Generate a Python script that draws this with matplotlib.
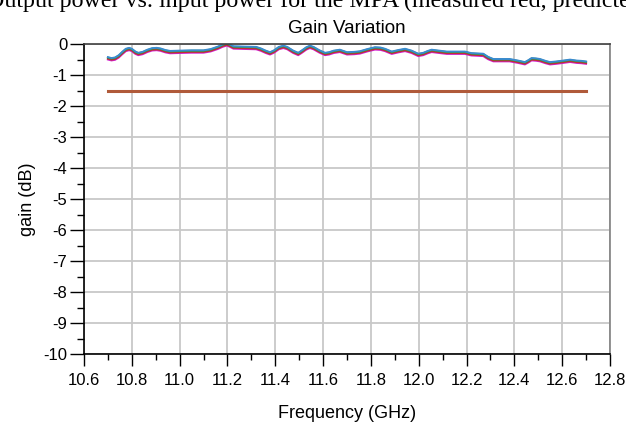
import matplotlib
matplotlib.use("Agg")
import matplotlib.pyplot as plt
import matplotlib.transforms as mtransforms
from matplotlib.ticker import MultipleLocator, FormatStrFormatter

##### data #####
freq = [10.70, 10.715, 10.73, 10.745, 10.76, 10.775, 10.789, 10.80, 10.815, 10.827,
        10.845, 10.865, 10.885, 10.904, 10.92, 10.94, 10.96, 11.00, 11.05, 11.10,
        11.13, 11.16, 11.18, 11.197, 11.21, 11.225, 11.27, 11.32, 11.34, 11.36,
        11.378, 11.395, 11.415, 11.434, 11.45, 11.475, 11.496, 11.51, 11.53, 11.545,
        11.56, 11.585, 11.608, 11.625, 11.645, 11.67, 11.70, 11.73, 11.754, 11.785,
        11.817, 11.84, 11.859, 11.887, 11.915, 11.943, 11.97, 11.998, 12.019, 12.038,
        12.054, 12.085, 12.117, 12.155, 12.193, 12.22, 12.27, 12.29, 12.312, 12.345,
        12.38, 12.415, 12.444, 12.458, 12.472, 12.49, 12.507, 12.53, 12.549, 12.575,
        12.605, 12.633, 12.66, 12.68, 12.70]
gain = [-0.46, -0.49, -0.47, -0.40, -0.29, -0.19, -0.16, -0.19, -0.28, -0.32,
        -0.29, -0.22, -0.17, -0.16, -0.18, -0.23, -0.26, -0.25, -0.24, -0.24,
        -0.20, -0.12, -0.05, -0.01, -0.05, -0.11, -0.12, -0.13, -0.18, -0.25,
        -0.30, -0.24, -0.13, -0.09, -0.13, -0.25, -0.32, -0.25, -0.14, -0.09,
        -0.13, -0.24, -0.32, -0.30, -0.25, -0.22, -0.30, -0.29, -0.27, -0.20,
        -0.14, -0.15, -0.19, -0.28, -0.23, -0.19, -0.25, -0.35, -0.32, -0.26,
        -0.22, -0.25, -0.28, -0.28, -0.28, -0.33, -0.35, -0.45, -0.52, -0.52,
        -0.52, -0.57, -0.62, -0.56, -0.49, -0.50, -0.52, -0.58, -0.62, -0.60,
        -0.57, -0.54, -0.57, -0.58, -0.60]
# traces drawn on top of each other, nearly identical
trace_colors = ["#d020d0", "#c03030", "#2aa02a", "#3a8ad0"]
trace_shift_pt = [-0.9, -0.3, 0.5, 0.8]

limit_freq = [10.7, 12.7]
limit_gain = [-1.5, -1.5]

fig = plt.figure(figsize=(6.26, 4.24), dpi=100)
ax = fig.add_axes([84/626, 1-354/424, 526/626, 310/424])

# cut off caption of the page above the chart
fig.text(-0.021, 1-7.5/424, "Output power vs. input power for the MPA (measured red, predicted",
         family="Liberation Serif", fontsize=17.3, va="baseline", ha="left")

for c, s in zip(trace_colors, trace_shift_pt):
    tr = mtransforms.offset_copy(ax.transData, fig=fig, x=0, y=s, units="points")
    ax.plot(freq, gain, color=c, lw=1.4, transform=tr, solid_joinstyle="round")

ax.plot(limit_freq, limit_gain, color="#b05a3a", lw=2.2)

ax.set_xlim(10.6, 12.8)
ax.set_ylim(-10, 0)
ax.xaxis.set_major_locator(MultipleLocator(0.2))
ax.xaxis.set_minor_locator(MultipleLocator(0.1))
ax.yaxis.set_major_locator(MultipleLocator(1))
ax.yaxis.set_minor_locator(MultipleLocator(0.5))
ax.xaxis.set_major_formatter(FormatStrFormatter("%.1f"))
ax.yaxis.set_major_formatter(FormatStrFormatter("%d"))
ax.grid(True, which="major", color="#c8c8c8", lw=1.3)
ax.set_axisbelow(True)

ax.tick_params(axis="y", which="major", length=10, width=1, pad=2, labelsize=12)
ax.tick_params(axis="y", which="minor", length=5, width=1)
ax.tick_params(axis="x", which="major", length=8.6, width=1, pad=5, labelsize=12)
ax.tick_params(axis="x", which="minor", length=4.3, width=1)
for lab in ax.get_xticklabels() + ax.get_yticklabels():
    lab.set_family("Liberation Sans")

ax.spines["left"].set_color("black")
ax.spines["bottom"].set_color("black")
ax.spines["top"].set_color("#404040")
ax.spines["right"].set_color("#808080")
for sp in ax.spines.values():
    sp.set_linewidth(1.2)

ax.set_title("Gain Variation", family="Liberation Sans", fontsize=13.5, pad=8)
ax.set_xlabel("Frequency (GHz)", family="Liberation Sans", fontsize=13, labelpad=12)
ax.set_ylabel("gain (dB)", family="Liberation Sans", fontsize=13, labelpad=5)

fig.savefig("out.png", dpi=100)
